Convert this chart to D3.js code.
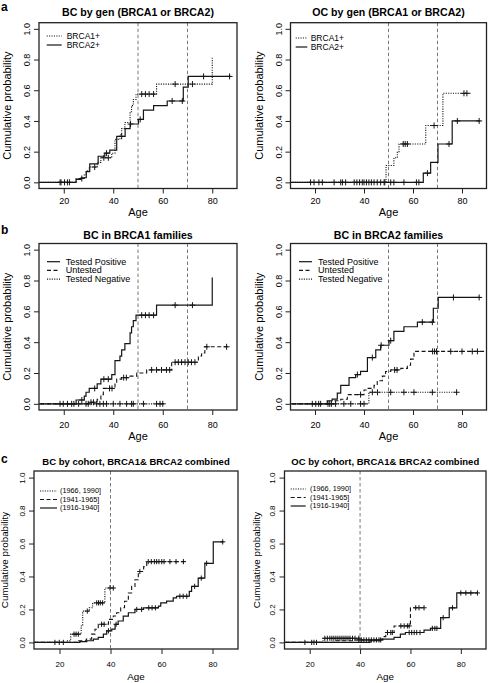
<!DOCTYPE html>
<html><head><meta charset="utf-8">
<script src="https://cdn.jsdelivr.net/npm/d3@7"></script>
<style>
body{margin:0;background:#fff}
svg{display:block}
text{font-family:"Liberation Sans",Arial,Helvetica,sans-serif;fill:#000}
</style>
</head><body>
<svg id="chart" width="488" height="683"></svg>
<script>
// ================= DATA =================
const ageTicks = [20, 40, 60, 80];
const probTicks = [0, 0.2, 0.4, 0.6, 0.8, 1.0];
const probTickLabels = ["0.0", "0.2", "0.4", "0.6", "0.8", "1.0"];

const panelLetters = ["a", "b", "c"];
const panelTitles = [
  "BC by gen (BRCA1 or BRCA2)", "OC by gen (BRCA1 or BRCA2)",
  "BC in BRCA1 families", "BC in BRCA2 families",
  "BC by cohort, BRCA1& BRCA2 combined", "OC by cohort, BRCA1& BRCA2 combined"
];
const xLabel = "Age";
const yLabel = "Cumulative probability";
const genLabels = ["BRCA1+", "BRCA2+"];
const familyLabels = ["Tested Positive", "Untested", "Tested Negative"];
const cohortLabels = ["(1966, 1990]", "(1941-1965]", "(1916-1940]"];
const refAgesGen = [50, 70];
const refAgesCohort = [40];

// Breast cancer, BRCA1 carriers (= tested positive in BRCA1 families): [age, cumulative probability]
const bcBrca1Steps = [[25,0.025],[28.3,0.05],[29,0.075],[30.3,0.10],[33.5,0.13],[35,0.16],[39.4,0.19],[40.7,0.28],[42.7,0.31],[43.4,0.35],[44.7,0.39],[46.8,0.46],[47.4,0.50],[48.1,0.54],[49.2,0.575],[57.5,0.64],[80,0.82]];
const bcBrca1Censor = [18.5, 21.5, 27.3, 32.5, 36.2, 38, 51.5, 53, 54.5, 56.3, 65, 72];
const bcBrca1End = 80;

// Breast cancer, BRCA2 carriers (= tested positive in BRCA2 families)
const bcBrca2Steps = [[25,0.02],[27,0.03],[29.1,0.07],[30.5,0.12],[33.9,0.17],[36.6,0.19],[38.6,0.21],[41.4,0.30],[44.8,0.35],[46.8,0.38],[50.2,0.41],[52.2,0.47],[56.3,0.50],[61.8,0.53],[68.3,0.62],[70.3,0.69]];
const bcBrca2Censor = [18.9, 20.3, 22.3, 37.3, 43.4, 47, 50.9, 63.8, 67.9, 76.5, 87];
const bcBrca2End = 87.5;

// Ovarian cancer by gene
const ocBrca1Steps = [[49,0.11],[52.2,0.16],[53.6,0.20],[54.3,0.25],[65.2,0.37],[72.2,0.58]];
const ocBrca1Censor = [18.2, 21.6, 27.8, 30.5, 32.5, 36, 38.2, 40, 42, 44.1, 46.8, 48.2, 56, 56.8, 57.7, 68.6, 80.8, 82];
const ocBrca1End = 83.5;
const ocBrca2Steps = [[64.2,0.06],[67.2,0.13],[70.2,0.25],[76,0.40]];
const ocBrca2Censor = [19.6, 23, 31.2, 37.1, 39.3, 41, 43, 45.4, 48.5, 50.9, 52.2, 56.3, 61.4, 62.4, 65.9, 74.7, 78.1, 87];
const ocBrca2End = 87.5;

// BRCA1 families: untested and tested negative
const b1UntestedSteps = [[30,0.01],[33.5,0.03],[35,0.06],[36,0.10],[40.7,0.14],[41.4,0.16],[43.4,0.17],[46,0.18],[49.5,0.20],[53.5,0.22],[63.6,0.27],[74.4,0.31],[75.7,0.33],[77,0.37]];
const b1UntestedCensor = [29, 31, 32, 38.5, 39.5, 44.2, 45.3, 55.5, 57.5, 59.5, 61.5, 62.8, 65, 66.3, 67.6, 69, 70.3, 71.6, 73, 77.8, 85.8];
const b1UntestedEnd = 86.5;
const b1NegSteps = [];
const b1NegCensor = [19.8, 23.2, 24.1, 26, 29.9, 33.3, 34.6, 36, 37.3, 40, 42.7, 45.4, 47.4, 48.1, 52.2, 57.5, 58.9, 60];
const b1NegEnd = 60.5;

// BRCA2 families: untested and tested negative
const b2UntestedSteps = [[27.8,0.02],[30.5,0.03],[33.2,0.06],[40,0.09],[41.4,0.10],[44.1,0.12],[45.4,0.15],[47.5,0.18],[48.8,0.21],[50.9,0.22],[55,0.23],[57.7,0.25],[59,0.29],[60.4,0.34]];
const b2UntestedCensor = [26, 38.6, 52.5, 53.5, 68, 68.8, 69.6, 75.4, 80, 84.2, 86.3];
const b2UntestedEnd = 92;
const b2NegSteps = [[42,0.075]];
const b2NegCensor = [21.5, 25.3, 26.7, 28.4, 31.8, 34.6, 38.6, 40, 43.4, 45.5, 50.9, 56.3, 60.4, 67.9, 77.8];
const b2NegEnd = 78;

// Breast cancer by birth cohort
const bcC66Steps = [[22.8,0.01],[24.4,0.05],[28.5,0.10],[29.1,0.19],[31.7,0.21],[33,0.24],[37.8,0.33]];
const bcC66Censor = [18.2, 19.9, 21.5, 25.7, 26.5, 27.4, 30.9, 34.6, 35.3, 36, 36.9, 39.8, 41.1];
const bcC66End = 41.5;
const bcC41Steps = [[27.5,0.01],[30.5,0.02],[32.6,0.05],[33.9,0.08],[35.2,0.11],[39.2,0.14],[41.1,0.16],[42.4,0.18],[44,0.21],[45.5,0.25],[47,0.30],[48.3,0.34],[49.6,0.38],[50.9,0.43],[53,0.46],[54.2,0.49]];
const bcC41Censor = [36.5, 37.5, 51.5, 54.8, 56, 57.2, 58.1, 59, 60.1, 61, 63.3, 65.7, 68.6];
const bcC41End = 69;
const bcC16Steps = [[28,0.005],[30.7,0.01],[33.3,0.02],[35.2,0.03],[37.2,0.05],[38.5,0.07],[40.5,0.08],[41.8,0.11],[43,0.13],[45,0.16],[47,0.18],[49.6,0.20],[52.9,0.21],[58.8,0.22],[59.7,0.24],[62,0.25],[64.6,0.27],[65.9,0.28],[70.9,0.31],[71.8,0.34],[74.4,0.39],[77,0.48],[80.3,0.61]];
const bcC16Censor = [39.2, 42.2, 50.3, 52.2, 55, 56.3, 57.6, 67.2, 68.5, 69.9, 73, 75.6, 77.7, 84];
const bcC16End = 84.3;

// Ovarian cancer by birth cohort
const ocC66Steps = [[25.3,0.025]];
const ocC66Censor = [18.1, 20.8, 21.7, 22.7, 26, 27, 28, 28.8, 29.6, 30.4, 31.2, 32, 32.8, 33.6, 34.4, 35.2, 36, 37, 38, 39.5];
const ocC66End = 40;
const ocC41Steps = [[30,0.01],[38,0.015],[49,0.035],[50.2,0.06],[53.5,0.10],[60,0.21]];
const ocC41Censor = [39.5, 40.5, 41.5, 42.5, 43.5, 44.5, 45.5, 46.5, 47.5, 48.2, 50.9, 52.2, 52.8, 56.2, 57.5, 58.8, 59.5, 62.1, 63.4, 65.4];
const ocC41End = 66;
const ocC16Steps = [[44,0.01],[48,0.02],[53.5,0.03],[56,0.05],[58,0.06],[65.4,0.075],[68,0.085],[72,0.15],[75.4,0.21],[78.4,0.30]];
const ocC16Censor = [59.5, 60.5, 61.5, 62.5, 63.8, 68.7, 69.7, 70.5, 73, 76.7, 80, 82, 84, 86.6];
const ocC16End = 86.8;

// ================= LAYOUT / STYLE =================
const ageDomain = [10, 90];
const probDomain = [-0.04, 1.04];
const styles = {
  solid:  {dash: null,        w: 1.2},
  dashed: {dash: "4,2.5",     w: 1.1},
  dotted: {dash: "1.1,1.3",   w: 1.1}
};
const rowA = {y0: 22.7, y1: 188.5, titleY: 15.5, tickY: 203.5, xlabY: 216, titleFs: 10.6, tickFs: 9, labFs: 11, legFs: 8.5, cross: 3, legDy: 9};
const rowB = {y0: 243.5, y1: 410, titleY: 238.5, tickY: 427.5, xlabY: 439.5, titleFs: 10.6, tickFs: 9, labFs: 11, legFs: 9, cross: 3, legDy: 8.7};
const rowC = {y0: 471, y1: 649, titleY: 465, tickY: 667, xlabY: 679.5, titleFs: 9.5, tickFs: 8, labFs: 9.8, legFs: 7.3, cross: 2.6, legDy: 8.5};

const svg = d3.select("#chart");

function valAt(steps, a) {
  const i = d3.bisector(d => d[0]).right(steps, a);
  return i === 0 ? 0 : steps[i - 1][1];
}

function drawPanel(p) {
  const r = p.row;
  const x = d3.scaleLinear().domain(ageDomain).range([p.x0, p.x1]);
  const y = d3.scaleLinear().domain(probDomain).range([r.y1, r.y0]);
  const g = svg.append("g");
  const clipId = "clip-" + p.id;
  svg.append("clipPath").attr("id", clipId).append("rect")
    .attr("x", p.x0).attr("y", r.y0).attr("width", p.x1 - p.x0).attr("height", r.y1 - r.y0);

  // reference lines
  g.selectAll(".ref").data(p.refAges).join("line")
    .attr("x1", d => x(d)).attr("x2", d => x(d))
    .attr("y1", r.y0).attr("y2", r.y1)
    .attr("stroke", "#555").attr("stroke-width", 0.8).attr("stroke-dasharray", "3.5,2.5");

  const lineGen = d3.line().x(d => x(d[0])).y(d => y(d[1])).curve(d3.curveStepAfter);
  p.curves.forEach(c => {
    const st = styles[c.style];
    const last = c.steps.length ? c.steps[c.steps.length - 1][1] : 0;
    const pts = [[0, 0], ...c.steps, [c.end, last]];
    g.append("path").attr("d", lineGen(pts))
      .attr("fill", "none").attr("stroke", "#151515").attr("stroke-width", st.w)
      .attr("stroke-dasharray", st.dash).attr("clip-path", `url(#${clipId})`);
    const cg = g.append("g").attr("stroke", "#151515").attr("stroke-width", 1);
    c.censor.forEach(a => {
      const cx = x(a), cy = y(valAt(c.steps, a));
      cg.append("line").attr("x1", cx - r.cross).attr("x2", cx + r.cross).attr("y1", cy).attr("y2", cy);
      cg.append("line").attr("x1", cx).attr("x2", cx).attr("y1", cy - r.cross).attr("y2", cy + r.cross);
    });
  });

  // box
  g.append("rect").attr("x", p.x0).attr("y", r.y0).attr("width", p.x1 - p.x0).attr("height", r.y1 - r.y0)
    .attr("fill", "none").attr("stroke", "#222").attr("stroke-width", 1.3);

  // x axis
  const xa = g.append("g").attr("transform", `translate(0,${r.y1})`)
    .call(d3.axisBottom(x).tickValues(ageTicks).tickSize(5).tickFormat(d3.format("d")));
  xa.select(".domain").remove();
  xa.selectAll("line").attr("stroke", "#222");
  xa.selectAll("text").attr("y", r.tickY - r.y1).attr("dy", 0)
    .style("font-size", r.tickFs + "px").style("font-family", "Liberation Sans, Arial, sans-serif").attr("fill", "#000");

  // y axis
  const ya = g.append("g").attr("transform", `translate(${p.x0},0)`)
    .call(d3.axisLeft(y).tickValues(probTicks).tickSize(5).tickFormat((d, i) => probTickLabels[i]));
  ya.select(".domain").remove();
  ya.selectAll("line").attr("stroke", "#222");
  ya.selectAll("text").attr("x", 0).attr("dy", 0).attr("y", 0)
    .attr("text-anchor", "middle")
    .attr("transform", `translate(${-12 + 0.35 * r.tickFs},0) rotate(-90)`)
    .style("font-size", r.tickFs + "px").style("font-family", "Liberation Sans, Arial, sans-serif").attr("fill", "#000");

  const cx = (p.x0 + p.x1) / 2;
  // title
  g.append("text").attr("x", cx).attr("y", r.titleY).attr("text-anchor", "middle")
    .style("font-size", r.titleFs + "px").style("font-weight", "bold").text(p.title);
  // x label
  g.append("text").attr("x", cx).attr("y", r.xlabY).attr("text-anchor", "middle")
    .style("font-size", r.labFs + "px").text(xLabel);
  // y label
  const cy = (r.y0 + r.y1) / 2;
  g.append("text").attr("text-anchor", "middle")
    .attr("transform", `translate(${p.ylabX + 0.35 * r.labFs},${cy}) rotate(-90)`)
    .style("font-size", r.labFs + "px").text(yLabel);

  // legend
  p.legend.forEach((it, i) => {
    const ly = p.legY + i * r.legDy;
    const st = styles[it.style];
    g.append("line").attr("x1", p.legX[0]).attr("x2", p.legX[1]).attr("y1", ly).attr("y2", ly)
      .attr("stroke", "#151515").attr("stroke-width", st.w).attr("stroke-dasharray", st.dash);
    g.append("text").attr("x", p.legX[2]).attr("y", ly + 0.34 * r.legFs)
      .style("font-size", r.legFs + "px").text(it.label);
  });
}

const panels = [
  {id: "a1", row: rowA, x0: 39, x1: 237, ylabX: 7.3, title: panelTitles[0], refAges: refAgesGen,
   curves: [
     {style: "dotted", steps: bcBrca1Steps, censor: bcBrca1Censor, end: bcBrca1End},
     {style: "solid", steps: bcBrca2Steps, censor: bcBrca2Censor, end: bcBrca2End}],
   legend: [{label: genLabels[0], style: "dotted"}, {label: genLabels[1], style: "solid"}],
   legX: [46.7, 61.7, 66.7], legY: 36},
  {id: "a2", row: rowA, x0: 290.5, x1: 486.5, ylabX: 259, title: panelTitles[1], refAges: refAgesGen,
   curves: [
     {style: "dotted", steps: ocBrca1Steps, censor: ocBrca1Censor, end: ocBrca1End},
     {style: "solid", steps: ocBrca2Steps, censor: ocBrca2Censor, end: ocBrca2End}],
   legend: [{label: genLabels[0], style: "dotted"}, {label: genLabels[1], style: "solid"}],
   legX: [295.7, 307.3, 310.7], legY: 38},
  {id: "b1", row: rowB, x0: 39, x1: 237, ylabX: 7.3, title: panelTitles[2], refAges: refAgesGen,
   curves: [
     {style: "solid", steps: bcBrca1Steps, censor: bcBrca1Censor, end: bcBrca1End},
     {style: "dashed", steps: b1UntestedSteps, censor: b1UntestedCensor, end: b1UntestedEnd},
     {style: "dotted", steps: b1NegSteps, censor: b1NegCensor, end: b1NegEnd}],
   legend: [{label: familyLabels[0], style: "solid"}, {label: familyLabels[1], style: "dashed"}, {label: familyLabels[2], style: "dotted"}],
   legX: [47, 60, 65.7], legY: 261.7},
  {id: "b2", row: rowB, x0: 290.5, x1: 486.5, ylabX: 259, title: panelTitles[3], refAges: refAgesGen,
   curves: [
     {style: "solid", steps: bcBrca2Steps, censor: bcBrca2Censor, end: bcBrca2End},
     {style: "dashed", steps: b2UntestedSteps, censor: b2UntestedCensor, end: b2UntestedEnd},
     {style: "dotted", steps: b2NegSteps, censor: b2NegCensor, end: b2NegEnd}],
   legend: [{label: familyLabels[0], style: "solid"}, {label: familyLabels[1], style: "dashed"}, {label: familyLabels[2], style: "dotted"}],
   legX: [299, 312, 318], legY: 261.7},
  {id: "c1", row: rowC, x0: 34, x1: 238, ylabX: 5, title: panelTitles[4], refAges: refAgesCohort,
   curves: [
     {style: "dotted", steps: bcC66Steps, censor: bcC66Censor, end: bcC66End},
     {style: "dashed", steps: bcC41Steps, censor: bcC41Censor, end: bcC41End},
     {style: "solid", steps: bcC16Steps, censor: bcC16Censor, end: bcC16End}],
   legend: [{label: cohortLabels[0], style: "dotted"}, {label: cohortLabels[1], style: "dashed"}, {label: cohortLabels[2], style: "solid"}],
   legX: [40, 57, 60], legY: 491},
  {id: "c2", row: rowC, x0: 284.5, x1: 486, ylabX: 256.7, title: panelTitles[5], refAges: refAgesCohort,
   curves: [
     {style: "dotted", steps: ocC66Steps, censor: ocC66Censor, end: ocC66End},
     {style: "dashed", steps: ocC41Steps, censor: ocC41Censor, end: ocC41End},
     {style: "solid", steps: ocC16Steps, censor: ocC16Censor, end: ocC16End}],
   legend: [{label: cohortLabels[0], style: "dotted"}, {label: cohortLabels[1], style: "dashed"}, {label: cohortLabels[2], style: "solid"}],
   legX: [290.7, 305.7, 310], legY: 489}
];
panels.forEach(drawPanel);

// panel letters
const letterPos = [[1, 10.5], [1, 234], [1, 463]];
svg.selectAll(".letter").data(panelLetters).join("text")
  .attr("x", (d, i) => letterPos[i][0]).attr("y", (d, i) => letterPos[i][1])
  .style("font-size", "12px").style("font-weight", "bold").text(d => d);
</script>
</body></html>
